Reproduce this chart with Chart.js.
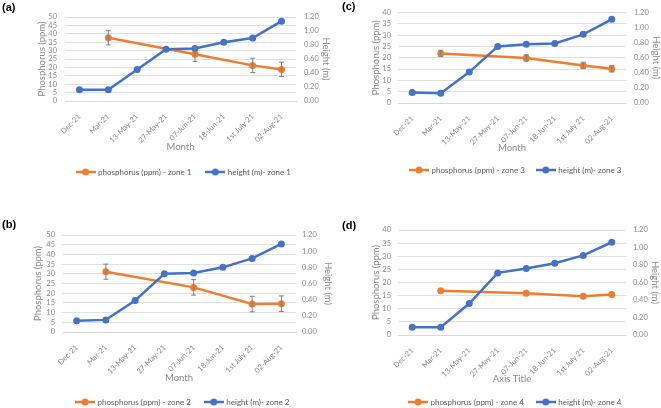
<!DOCTYPE html>
<html>
<head>
<meta charset="utf-8">
<script src="https://cdn.jsdelivr.net/npm/chart.js@4.4.1/dist/chart.umd.min.js"></script>
<style>
  body { margin: 0; background: #fff; }
  #wrap { position: relative; width: 661px; height: 408px; overflow: hidden; background: #fff; }
  .panel { position: absolute; }
  .tag { position: absolute; font: bold 11px "Liberation Sans", Arial, sans-serif; color: #000; line-height: 12px; }
</style>
</head>
<body>
<div id="wrap">
  <canvas class="panel" id="cA" width="336" height="200" style="left:0;top:0"></canvas>
  <canvas class="panel" id="cB" width="336" height="222" style="left:0;top:200px"></canvas>
  <canvas class="panel" id="cC" width="331" height="200" style="left:330px;top:0"></canvas>
  <canvas class="panel" id="cD" width="331" height="222" style="left:330px;top:200px"></canvas>
  <div class="tag" style="left:2px;top:1px">(a)</div>
  <div class="tag" style="left:342px;top:0px">(c)</div>
  <div class="tag" style="left:2px;top:218px">(b)</div>
  <div class="tag" style="left:342px;top:219px">(d)</div>
</div>
<script>
const months = ['Dec-21', 'Mar-21', '13-May-21', '27-May-21', '07-Jun-21', '18-Jun-21', '1st July 21', '02-Aug-21'];

const phosZone1 = [null, 37.6, null, null, 27.8, null, 21.2, 18.8];
const phosErr1 = [null, 4.2, null, null, 4.2, null, 4.3, 4.3];
const heightZone1 = [0.16, 0.16, 0.45, 0.74, 0.75, 0.84, 0.90, 1.14];

const phosZone2 = [null, 31.1, null, null, 23.0, null, 14.4, 14.6];
const phosErr2 = [null, 3.9, null, null, 4.0, null, 4.0, 4.0];
const heightZone2 = [0.14, 0.15, 0.39, 0.72, 0.73, 0.80, 0.91, 1.09];

const phosZone3 = [null, 21.9, null, null, 19.9, null, 16.6, 15.1];
const phosErr3 = [null, 1.4, null, null, 1.4, null, 1.4, 1.4];
const heightZone3 = [0.14, 0.13, 0.41, 0.75, 0.78, 0.79, 0.91, 1.11];

const phosZone4 = [null, 16.9, null, null, 15.9, null, 14.8, 15.4];
const phosErr4 = [null, 0, null, null, 0, null, 0, 0];
const heightZone4 = [0.09, 0.09, 0.36, 0.71, 0.76, 0.82, 0.91, 1.06];

const ORANGE = '#ED7D31';
const BLUE = '#4472C4';
const FONT = 'Lato, "Open Sans", sans-serif';
const TICK = 7.5, TITLE = 9.5, LEG = 8;

// line + dot swatch for the legend, like Excel's
function swatch(color) {
  const c = document.createElement('canvas');
  c.width = 20; c.height = 8;
  const x = c.getContext('2d');
  x.strokeStyle = color; x.lineWidth = 2.5;
  x.beginPath(); x.moveTo(0, 4); x.lineTo(20, 4); x.stroke();
  x.fillStyle = color;
  x.beginPath(); x.arc(10, 4, 3.5, 0, Math.PI * 2); x.fill();
  return c;
}

const errorBars = {
  id: 'errorBars',
  afterDatasetsDraw(chart) {
    const ctx = chart.ctx;
    const yS = chart.scales.y;
    chart.data.datasets.forEach((ds, i) => {
      if (!ds.errors) return;
      const meta = chart.getDatasetMeta(i);
      ctx.save();
      ctx.strokeStyle = '#7f7f7f';
      ctx.lineWidth = 1;
      ds.data.forEach((v, j) => {
        const e = ds.errors[j];
        if (v == null || !e) return;
        const px = meta.data[j].x;
        const top = yS.getPixelForValue(v + e);
        const bot = yS.getPixelForValue(v - e);
        ctx.beginPath();
        ctx.moveTo(px, top); ctx.lineTo(px, bot);
        ctx.moveTo(px - 2.5, top); ctx.lineTo(px + 2.5, top);
        ctx.moveTo(px - 2.5, bot); ctx.lineTo(px + 2.5, bot);
        ctx.stroke();
      });
      ctx.restore();
    });
  }
};

function makeChart(id, zone, phos, err, height, phosMax, xTitle, L) {
  const W = L.w, H = L.h;
  const lh = TITLE * 1.2;
  const padLeft = L.leftTitle - lh / 2;
  const padRight = W - L.rightTitle - lh / 2;
  const xH = L.xTitle + lh / 2 - L.bottom;
  const xBottom = L.bottom + xH;
  const legPad = L.legend - xBottom - LEG / 2;
  const legH = LEG + legPad + 10;
  const padBottom = H - xBottom - legH;

  return new Chart(document.getElementById(id), {
    type: 'line',
    data: {
      labels: months,
      datasets: [
        {
          label: 'phosphorus (ppm) - zone ' + zone,
          data: phos, errors: err, yAxisID: 'y',
          borderColor: ORANGE, backgroundColor: ORANGE,
          borderWidth: 2.5, pointRadius: 3.5, pointBorderWidth: 0, pointHoverRadius: 3.5,
          spanGaps: true, tension: 0, order: 1
        },
        {
          label: 'height (m)- zone ' + zone,
          data: height, yAxisID: 'y1',
          borderColor: BLUE, backgroundColor: BLUE,
          borderWidth: 2.5, pointRadius: 3.5, pointBorderWidth: 0, pointHoverRadius: 3.5,
          tension: 0, order: 0
        }
      ]
    },
    options: {
      responsive: false,
      animation: false,
      layout: { padding: { left: padLeft, right: padRight, top: L.top, bottom: padBottom } },
      plugins: {
        tooltip: { enabled: false },
        legend: {
          position: 'bottom',
          labels: {
            usePointStyle: true,
            pointStyleWidth: 17,
            padding: legPad,
            color: '#595959',
            font: { family: FONT, size: LEG },
            sort: (a, b) => a.datasetIndex - b.datasetIndex,
            generateLabels(chart) {
              const items = Chart.defaults.plugins.legend.labels.generateLabels(chart);
              items.forEach(it => { it.pointStyle = swatch(it.datasetIndex === 0 ? ORANGE : BLUE); });
              return items;
            }
          }
        }
      },
      scales: {
        x: {
          offset: true,
          grid: { display: false },
          border: { display: true, color: '#d9d9d9' },
          ticks: { color: '#8a8a8a', font: { family: FONT, size: 7.5 }, minRotation: 45, maxRotation: 45, autoSkip: false, padding: 3 },
          title: { display: true, text: xTitle, color: '#8a8a8a', font: { family: FONT, size: TITLE }, padding: 0 },
          afterFit(s) { s.height = xH; }
        },
        y: {
          position: 'left', min: 0, max: phosMax,
          grid: { color: '#e0e0e0', drawTicks: false },
          border: { display: false },
          ticks: { stepSize: 5, autoSkip: false, color: '#8a8a8a', font: { family: FONT, size: TICK }, padding: L.leftPad },
          title: { display: true, text: 'Phosphorus (ppm)', color: '#8a8a8a', font: { family: FONT, size: TITLE }, padding: 0 },
          afterFit(s) { s.width = L.left - padLeft; }
        },
        y1: {
          position: 'right', min: 0, max: 1.2,
          grid: { display: false, drawTicks: false },
          border: { display: false },
          ticks: { stepSize: 0.2, autoSkip: false, color: '#8a8a8a', font: { family: FONT, size: TICK }, padding: L.rightPad,
                   callback: v => v.toFixed(2) },
          title: { display: true, text: 'Height (m)', color: '#8a8a8a', font: { family: FONT, size: TITLE }, padding: 0 },
          afterFit(s) { s.width = W - padRight - L.right; }
        }
      }
    },
    plugins: [errorBars]
  });
}

makeChart('cA', 1, phosZone1, phosErr1, heightZone1, 50, 'Month',
  { w: 336, h: 200, left: 65, right: 296, top: 17, bottom: 101, leftTitle: 42, rightTitle: 326, xTitle: 147, legend: 172, leftPad: 8, rightPad: 8 });
makeChart('cB', 2, phosZone2, phosErr2, heightZone2, 50, 'Month',
  { w: 336, h: 222, left: 62, right: 296, top: 35, bottom: 132, leftTitle: 38, rightTitle: 328, xTitle: 178, legend: 202, leftPad: 7, rightPad: 6 });
makeChart('cC', 3, phosZone3, phosErr3, heightZone3, 40, 'Month',
  { w: 331, h: 200, left: 68, right: 296, top: 11, bottom: 103, leftTitle: 46, rightTitle: 326, xTitle: 148, legend: 170, leftPad: 7, rightPad: 8 });
makeChart('cD', 4, phosZone4, phosErr4, heightZone4, 40, 'Axis Title',
  { w: 331, h: 222, left: 68, right: 296, top: 30, bottom: 135, leftTitle: 46, rightTitle: 325, xTitle: 179, legend: 202, leftPad: 7, rightPad: 7 });
</script>
</body>
</html>
